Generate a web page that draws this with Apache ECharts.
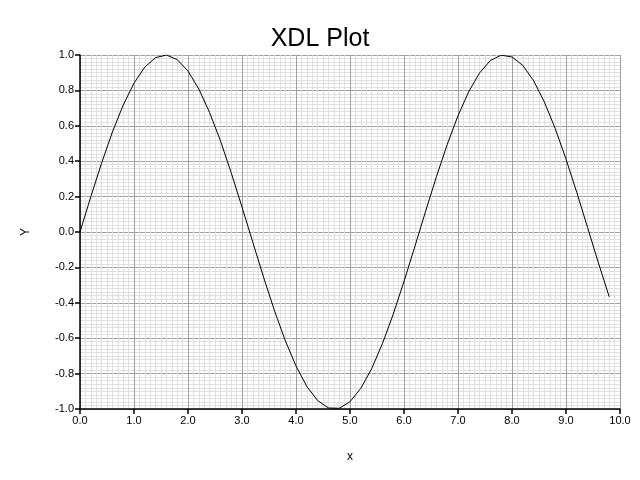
<!DOCTYPE html>
<html><head><meta charset="utf-8">
<script src="https://cdn.jsdelivr.net/npm/echarts@6/dist/echarts.min.js"></script>
<style>html,body{margin:0;padding:0;background:#fff}#c{width:640px;height:480px}</style>
</head><body><div id="c"></div>
<script>
var xValues = [0,0.2,0.4,0.6,0.8,1.0,1.2,1.4,1.6,1.8,2.0,2.2,2.4,2.6,2.8,3.0,3.2,3.4,3.6,3.8,4.0,4.2,4.4,4.6,4.8,5.0,5.2,5.4,5.6,5.8,6.0,6.2,6.4,6.6,6.8,7.0,7.2,7.4,7.6,7.8,8.0,8.2,8.4,8.6,8.8,9.0,9.2,9.4,9.6,9.8];
var yValues = [0,0.199,0.389,0.565,0.717,0.841,0.932,0.985,1.0,0.974,0.909,0.808,0.675,0.516,0.335,0.141,-0.058,-0.256,-0.443,-0.612,-0.757,-0.872,-0.952,-0.994,-0.996,-0.959,-0.883,-0.773,-0.631,-0.465,-0.279,-0.083,0.117,0.312,0.494,0.657,0.794,0.899,0.969,0.999,0.989,0.941,0.855,0.734,0.585,0.412,0.223,0.025,-0.174,-0.366];
var titleText = 'XDL Plot';
var xName = 'x';
var yName = 'Y';

var font = 'Liberation Sans, Arial, Helvetica, sans-serif';
var chart = echarts.init(document.getElementById('c'), null, {renderer:'canvas'});
var pts = xValues.map(function(x,i){return [x, yValues[i]];});
chart.setOption({
  animation:false,
  title:{text:titleText,left:'center',top:22,textStyle:{fontFamily:font,fontSize:25,fontWeight:'normal',color:'#000'}},
  grid:{left:80,right:20,top:55,bottom:71},
  xAxis:{type:'value',min:0,max:10,interval:1,name:xName,nameLocation:'middle',nameGap:42,
    nameTextStyle:{fontFamily:font,fontSize:12,color:'#000'},
    axisLine:{show:true,onZero:false,lineStyle:{color:'#000',width:1.5}},
    axisTick:{show:true,length:5,lineStyle:{color:'#000',width:1.5}},
    axisLabel:{fontFamily:font,fontSize:11,color:'#000',margin:6,formatter:function(v){return v.toFixed(1);}},
    splitLine:{show:true,lineStyle:{color:'#a0a0a0',width:1}},
    minorTick:{show:false,splitNumber:10},
    minorSplitLine:{show:true,lineStyle:{color:'#e0e0e0',width:1}}
  },
  yAxis:{type:'value',min:-1,max:1,interval:0.2,name:yName,nameLocation:'middle',nameGap:48,
    nameTextStyle:{fontFamily:font,fontSize:12,color:'#000'},
    axisLine:{show:true,onZero:false,lineStyle:{color:'#000',width:1.5}},
    axisTick:{show:true,length:5,lineStyle:{color:'#000',width:1.5}},
    axisLabel:{fontFamily:font,fontSize:11,color:'#000',margin:6,formatter:function(v){return v.toFixed(1);}},
    splitLine:{show:true,lineStyle:{color:'#a0a0a0',width:1}},
    minorTick:{show:false,splitNumber:10},
    minorSplitLine:{show:true,lineStyle:{color:'#e0e0e0',width:1}}
  },
  series:[{type:'line',data:pts,showSymbol:false,symbol:'none',lineStyle:{color:'#000',width:1},silent:true}]
});
</script></body></html>
